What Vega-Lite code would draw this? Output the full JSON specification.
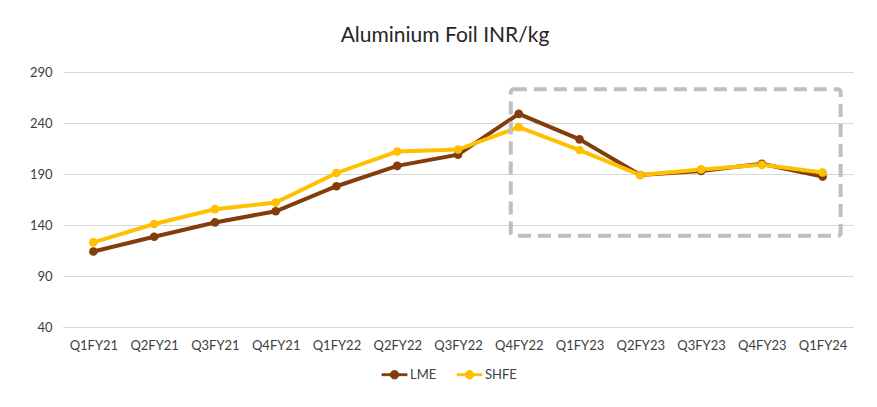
{
  "$schema": "https://vega.github.io/schema/vega-lite/v6.json",
  "width": 790,
  "height": 255,
  "autosize": "none",
  "padding": {"left": 63, "top": 72, "right": 24, "bottom": 80},
  "background": "white",
  "title": {"text": "Aluminium Foil INR/kg", "fontSize": 21, "font": "Lato", "fontWeight": "normal", "color": "#262626", "anchor": "middle", "dx": -13, "offset": 20},
  "config": {
    "font": "Lato",
    "view": {"stroke": null},
    "axis": {"labelFont": "Lato", "labelFontSize": 13, "labelColor": "#404040", "ticks": false, "title": null}
  },
  "data": {"values": [
    {"quarter": "Q1FY21", "series": "LME", "value": 114},
    {"quarter": "Q2FY21", "series": "LME", "value": 128.5},
    {"quarter": "Q3FY21", "series": "LME", "value": 142.5},
    {"quarter": "Q4FY21", "series": "LME", "value": 153.5},
    {"quarter": "Q1FY22", "series": "LME", "value": 178},
    {"quarter": "Q2FY22", "series": "LME", "value": 198},
    {"quarter": "Q3FY22", "series": "LME", "value": 209},
    {"quarter": "Q4FY22", "series": "LME", "value": 249},
    {"quarter": "Q1FY23", "series": "LME", "value": 224},
    {"quarter": "Q2FY23", "series": "LME", "value": 189},
    {"quarter": "Q3FY23", "series": "LME", "value": 193},
    {"quarter": "Q4FY23", "series": "LME", "value": 200},
    {"quarter": "Q1FY24", "series": "LME", "value": 187.5},
    {"quarter": "Q1FY21", "series": "SHFE", "value": 123},
    {"quarter": "Q2FY21", "series": "SHFE", "value": 141},
    {"quarter": "Q3FY21", "series": "SHFE", "value": 155.5},
    {"quarter": "Q4FY21", "series": "SHFE", "value": 162},
    {"quarter": "Q1FY22", "series": "SHFE", "value": 191},
    {"quarter": "Q2FY22", "series": "SHFE", "value": 212},
    {"quarter": "Q3FY22", "series": "SHFE", "value": 214},
    {"quarter": "Q4FY22", "series": "SHFE", "value": 236},
    {"quarter": "Q1FY23", "series": "SHFE", "value": 213.5},
    {"quarter": "Q2FY23", "series": "SHFE", "value": 189},
    {"quarter": "Q3FY23", "series": "SHFE", "value": 194.5},
    {"quarter": "Q4FY23", "series": "SHFE", "value": 199},
    {"quarter": "Q1FY24", "series": "SHFE", "value": 191.5}
  ]},
  "layer": [
    {
      "mark": {"type": "line", "strokeWidth": 4, "point": {"filled": true, "size": 75}},
      "encoding": {
        "x": {
          "field": "quarter", "type": "ordinal",
          "scale": {"type": "point", "padding": 0.5, "domain": ["Q1FY21","Q2FY21","Q3FY21","Q4FY21","Q1FY22","Q2FY22","Q3FY22","Q4FY22","Q1FY23","Q2FY23","Q3FY23","Q4FY23","Q1FY24"]},
          "axis": {"labelAngle": 0, "labelPadding": 12, "domainColor": "#d9d9d9", "grid": false, "title": null}
        },
        "y": {
          "field": "value", "type": "quantitative",
          "scale": {"domain": [40, 290], "nice": false, "zero": false},
          "axis": {"values": [40, 90, 140, 190, 240, 290], "domain": false, "gridColor": "#d9d9d9", "labelPadding": 11, "title": null}
        },
        "color": {
          "field": "series", "type": "nominal",
          "scale": {"domain": ["LME", "SHFE"], "range": ["#843c0c", "#ffc000"]},
          "legend": {
            "orient": "none", "legendX": 325, "legendY": 296, "direction": "horizontal", "title": null,
            "labelFont": "Lato", "labelFontSize": 13, "labelColor": "#404040",
            "symbolType": "M-2.5,-0.18H2.5V0.18H-2.5Z M-0.85,0A0.85,0.85 0 1,1 0.85,0A0.85,0.85 0 1,1 -0.85,0Z",
            "symbolSize": 100, "symbolStrokeWidth": 1, "labelOffset": 9, "columnPadding": 18
          }
        }
      }
    },
    {
      "data": {"values": [{"from": "Q4FY22", "to": "Q1FY24", "lo": 129.5, "hi": 273}]},
      "mark": {"type": "rect", "fill": "transparent", "stroke": "#bfbfbf", "strokeWidth": 4, "strokeDash": [13, 7], "xOffset": -8, "x2Offset": 18, "cornerRadius": 3},
      "encoding": {
        "x": {"field": "from", "type": "ordinal"},
        "x2": {"field": "to"},
        "y": {"field": "lo", "type": "quantitative"},
        "y2": {"field": "hi"}
      }
    }
  ]
}
